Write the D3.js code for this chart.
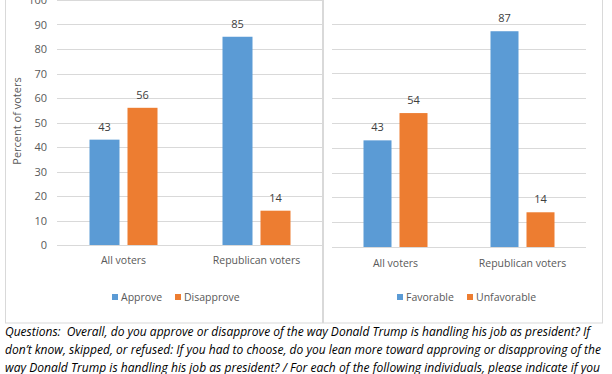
<!DOCTYPE html>
<html>
<head>
<meta charset="utf-8">
<script src="https://cdn.jsdelivr.net/npm/d3@7"></script>
<style>
  body { margin: 0; background: #fff; }
  svg { display: block; font-family: 'Open Sans', sans-serif; }
  .caption { white-space: pre; }
</style>
</head>
<body>
<svg id="chart" width="612" height="374"></svg>
<script>
// data
const categories = ['All voters', 'Republican voters'];
const approvalSeries = ['Approve', 'Disapprove'];
const approvalValues = [[43, 56], [85, 14]];
const favorSeries = ['Favorable', 'Unfavorable'];
const favorValues = [[43, 54], [87, 14]];
const yTicks = [0, 10, 20, 30, 40, 50, 60, 70, 80, 90, 100];
const captionLines = [
  'Questions:  Overall, do you approve or disapprove of the way Donald Trump is handling his job as president? If',
  'don\u2019t know, skipped, or refused: If you had to choose, do you lean more toward approving or disapproving of the',
  'way Donald Trump is handling his job as president? / For each of the following individuals, please indicate if you'
];

const colors = ['#5b9bd5', '#ed7d31'];
const textColor = '#595959';
const gridColor = '#d9d9d9';

const svg = d3.select('#chart');

// panel frames
svg.append('rect')
  .attr('x', 5.5).attr('y', -5)
  .attr('width', 317).attr('height', 328)
  .attr('fill', 'none').attr('stroke', gridColor);
svg.append('rect')
  .attr('x', 323.5).attr('y', -5)
  .attr('width', 279).attr('height', 328)
  .attr('fill', 'none').attr('stroke', gridColor);

function drawPanel(opts) {
  const g = svg.append('g');
  const x = d3.scaleBand().domain(categories).range(opts.xRange);
  const y = d3.scaleLinear().domain([0, 100]).range(opts.yRange);
  const inner = d3.scaleBand().domain(opts.series)
    .range([x.bandwidth() / 2 - opts.barW - opts.gap / 2, x.bandwidth() / 2 + opts.barW + opts.gap / 2])
    .paddingInner(opts.gap / (opts.barW + opts.gap));

  // gridlines
  g.append('g')
    .selectAll('line')
    .data(yTicks)
    .enter().append('line')
      .attr('x1', opts.xRange[0])
      .attr('x2', opts.xRange[1])
      .attr('y1', d => Math.round(y(d)) + 0.5)
      .attr('y2', d => Math.round(y(d)) + 0.5)
      .attr('stroke', gridColor);

  if (opts.showAxis) {
    g.append('g')
      .selectAll('text')
      .data(yTicks)
      .enter().append('text')
        .attr('x', opts.xRange[0] - 10)
        .attr('y', d => y(d) + 4)
        .attr('text-anchor', 'end')
        .attr('font-size', 11)
        .attr('fill', textColor)
        .text(d => d);
    g.append('text')
      .attr('transform', 'translate(21,121) rotate(-90)')
      .attr('text-anchor', 'middle')
      .attr('font-size', 11)
      .attr('fill', textColor)
      .text('Percent of voters');
  }

  const group = g.append('g')
    .selectAll('g')
    .data(categories)
    .enter().append('g')
      .attr('transform', d => `translate(${x(d)},0)`);

  const rows = categories.map((c, i) => opts.series.map((s, j) => ({ cat: c, series: s, j: j, value: opts.values[i][j] })));

  group.selectAll('rect')
    .data((d, i) => rows[i])
    .enter().append('rect')
      .attr('x', d => inner(d.series))
      .attr('y', d => y(d.value))
      .attr('width', inner.bandwidth())
      .attr('height', d => y(0) - y(d.value))
      .attr('fill', d => colors[d.j]);

  group.selectAll('text')
    .data((d, i) => rows[i])
    .enter().append('text')
      .attr('x', d => inner(d.series) + inner.bandwidth() / 2)
      .attr('y', d => y(d.value) - 9)
      .attr('text-anchor', 'middle')
      .attr('font-size', 11)
      .attr('fill', '#404040')
      .text(d => d.value);

  // category labels
  g.append('g')
    .selectAll('text')
    .data(categories)
    .enter().append('text')
      .attr('x', d => x(d) + x.bandwidth() / 2)
      .attr('y', opts.catY)
      .attr('text-anchor', 'middle')
      .attr('font-size', 10.5)
      .attr('fill', textColor)
      .text(d => d);

  // legend
  const legend = g.append('g')
    .selectAll('g')
    .data(opts.series)
    .enter().append('g')
      .attr('transform', (d, i) => `translate(${opts.legendX[i]},${opts.legendY})`);
  legend.append('rect')
    .attr('x', 0).attr('y', -7)
    .attr('width', 6).attr('height', 6)
    .attr('fill', (d, i) => colors[i]);
  legend.append('text')
    .attr('x', 9).attr('y', 0)
    .attr('font-size', 10.5)
    .attr('fill', textColor)
    .text(d => d);
}

drawPanel({
  series: approvalSeries,
  values: approvalValues,
  xRange: [57, 323],
  yRange: [245, 0],
  barW: 30,
  gap: 8,
  showAxis: true,
  catY: 264,
  legendX: [112, 175],
  legendY: 301
});

drawPanel({
  series: favorSeries,
  values: favorValues,
  xRange: [332, 586],
  yRange: [247, -1],
  barW: 28,
  gap: 8,
  showAxis: false,
  catY: 267,
  legendX: [397, 467],
  legendY: 301
});

// caption
svg.append('g')
  .selectAll('text')
  .data(captionLines)
  .enter().append('text')
    .attr('class', 'caption')
    .attr('x', 5)
    .attr('y', (d, i) => 336 + i * 18)
    .attr('font-size', 13)
    .attr('font-style', 'italic')
    .attr('fill', '#000')
    .attr('textLength', (d, i) => [585, 596, 595][i])
    .attr('lengthAdjust', 'spacingAndGlyphs')
    .text(d => d);
</script>
</body>
</html>
